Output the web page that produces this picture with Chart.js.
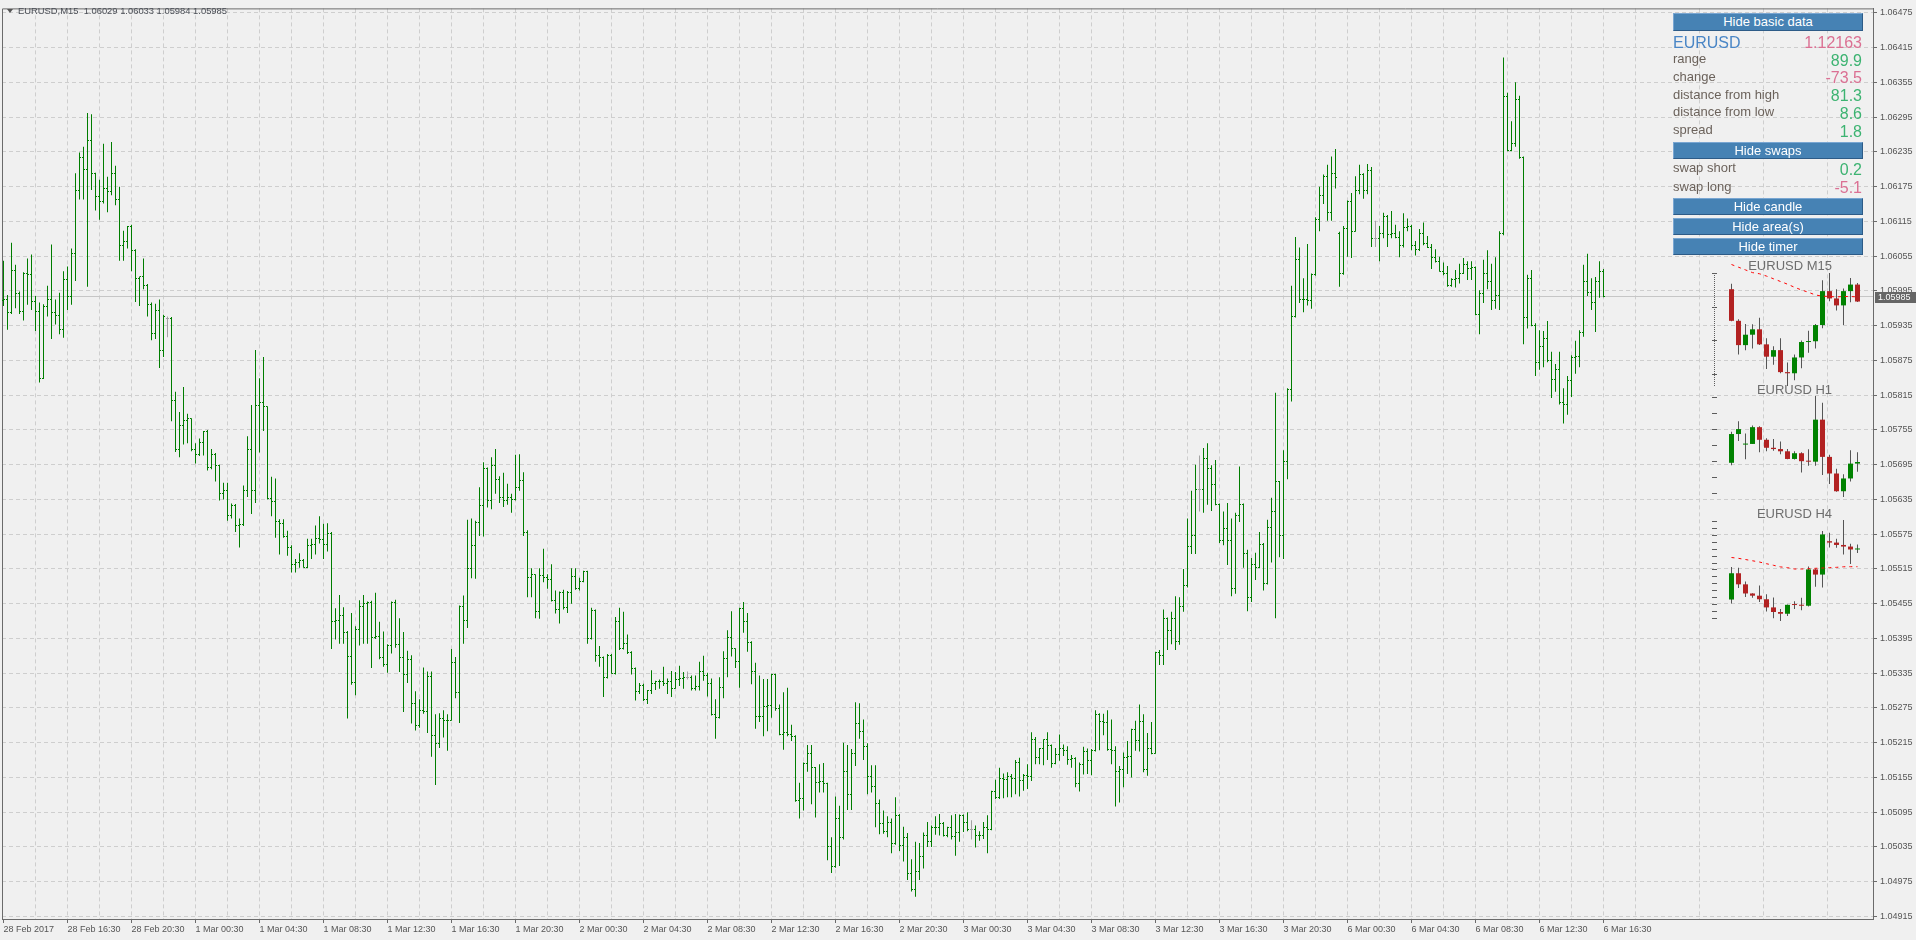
<!DOCTYPE html>
<html>
<head>
<meta charset="utf-8">
<title>EURUSD,M15</title>
<script src="https://cdn.jsdelivr.net/npm/chart.js@4.4.1/dist/chart.umd.min.js"></script>
<style>
html, body { margin: 0; padding: 0; background: #f0f0f0; overflow: hidden; }
#wrap { position: relative; width: 1916px; height: 940px; font-family: "Liberation Sans", Arial, sans-serif; }
canvas { position: absolute; }
.hdr { position: absolute; left: 18px; top: 5px; font-size: 9.4px; line-height: 11px; color: #4a4e56; white-space: pre; }
.tri { position: absolute; left: 7px; top: 9px; width: 0; height: 0; border-left: 3px solid transparent; border-right: 3px solid transparent; border-top: 4px solid #555; }
.btn { position: absolute; left: 1673px; width: 190px; height: 17px; box-sizing: border-box; background: #4682b4;
       border: 1px solid; border-color: #79a6d2 #2d5b87 #2d5b87 #79a6d2; color: #fff; font-size: 13px; line-height: 15px; text-align: center; }
.lbl { position: absolute; left: 1673px; font-size: 13px; line-height: 18px; height: 18px; color: #6b625b; white-space: nowrap; }
.val { position: absolute; right: 54px; font-size: 16px; line-height: 18px; height: 18px; text-align: right; white-space: nowrap; }
.sym { position: absolute; left: 1673px; font-size: 16px; line-height: 18px; color: #4a86c6; }
.green { color: #3cb371; }
.pink { color: #db7093; }
.ttl { position: absolute; right: 84px; font-size: 13px; line-height: 16px; color: #6e6e6e; white-space: nowrap; }
</style>
</head>
<body>
<div id="wrap">
  <canvas id="main" width="1916" height="940" style="left:0;top:0;width:1916px;height:940px"></canvas>
  <canvas id="m15" width="162" height="129" style="left:1704px;top:261px;width:162px;height:129px"></canvas>
  <canvas id="h1" width="162" height="117" style="left:1704px;top:384px;width:162px;height:117px"></canvas>
  <canvas id="h4" width="162" height="117" style="left:1704px;top:508px;width:162px;height:117px"></canvas>

  <div class="tri"></div>
  <div class="hdr">EURUSD,M15  1.06029 1.06033 1.05984 1.05985</div>

  <div class="btn" style="top:13px;height:18px;line-height:16px">Hide basic data</div>
  <div class="sym" style="top:34px">EURUSD</div>
  <div class="val pink" style="top:34px">1.12163</div>
  <div class="lbl" style="top:50px">range</div><div class="val green" style="top:52px">89.9</div>
  <div class="lbl" style="top:68px">change</div><div class="val pink" style="top:69px">-73.5</div>
  <div class="lbl" style="top:86px">distance from high</div><div class="val green" style="top:87px">81.3</div>
  <div class="lbl" style="top:103px">distance from low</div><div class="val green" style="top:105px">8.6</div>
  <div class="lbl" style="top:121px">spread</div><div class="val green" style="top:123px">1.8</div>
  <div class="btn" style="top:142px">Hide swaps</div>
  <div class="lbl" style="top:159px">swap short</div><div class="val green" style="top:161px">0.2</div>
  <div class="lbl" style="top:178px">swap long</div><div class="val pink" style="top:179px">-5.1</div>
  <div class="btn" style="top:198px">Hide candle</div>
  <div class="btn" style="top:218px">Hide area(s)</div>
  <div class="btn" style="top:238px">Hide timer</div>

  <div class="ttl" style="top:258px">EURUSD M15</div>
  <div class="ttl" style="top:382px">EURUSD H1</div>
  <div class="ttl" style="top:506px">EURUSD H4</div>
</div>

<script>
// M15 bars, 28 Feb 2017 12:30 .. 6 Mar 2017 16:30
const opens = [
1.05978,1.05981,1.05958,1.06031,1.05990,1.05959,1.06025,1.06023,1.05976,1.05959,
1.05844,1.05968,1.05980,1.05958,1.05953,1.05928,1.06015,1.05985,1.06060,1.06169,
1.06225,1.06205,1.06255,1.06197,1.06158,1.06149,1.06172,1.06166,1.06198,1.06153,
1.06073,1.06081,1.06107,1.06065,1.06016,1.06020,1.06004,1.05971,1.05922,1.05961,
1.05892,1.05948,1.05948,1.05806,1.05721,1.05763,1.05771,1.05774,1.05722,1.05713,
1.05734,1.05753,1.05690,1.05712,1.05693,1.05646,1.05651,1.05607,1.05625,1.05590,
1.05592,1.05650,1.05721,1.05651,1.05798,1.05802,1.05795,1.05637,1.05632,1.05597,
1.05593,1.05571,1.05552,1.05522,1.05527,1.05529,1.05518,1.05556,1.05558,1.05567,
1.05565,1.05558,1.05577,1.05425,1.05426,1.05435,1.05406,1.05363,1.05319,1.05410,
1.05451,1.05455,1.05457,1.05396,1.05399,1.05362,1.05350,1.05383,1.05457,1.05385,
1.05362,1.05332,1.05358,1.05282,1.05245,1.05270,1.05269,1.05329,1.05228,1.05214,
1.05257,1.05253,1.05254,1.05354,1.05302,1.05451,1.05426,1.05516,1.05556,1.05595,
1.05625,1.05688,1.05634,1.05694,1.05669,1.05639,1.05634,1.05639,1.05635,1.05656,
1.05668,1.05578,1.05500,1.05505,1.05441,1.05504,1.05500,1.05497,1.05461,1.05445,
1.05475,1.05448,1.05475,1.05502,1.05482,1.05494,1.05510,1.05395,1.05444,1.05366,
1.05362,1.05328,1.05366,1.05335,1.05424,1.05378,1.05386,1.05371,1.05344,1.05304,
1.05314,1.05289,1.05305,1.05317,1.05321,1.05320,1.05318,1.05320,1.05309,1.05325,
1.05326,1.05328,1.05328,1.05309,1.05312,1.05338,1.05331,1.05317,1.05264,1.05259,
1.05310,1.05361,1.05396,1.05377,1.05355,1.05446,1.05424,1.05388,1.05338,1.05260,
1.05261,1.05277,1.05279,1.05332,1.05274,1.05229,1.05232,1.05229,1.05226,1.05115,
1.05118,1.05179,1.05197,1.05172,1.05146,1.05148,1.05144,1.05035,1.05001,1.05085,
1.05052,1.05165,1.05126,1.05197,1.05248,1.05235,1.05209,1.05157,1.05139,1.05110,
1.05076,1.05061,1.05078,1.05041,1.05089,1.05038,1.05052,1.04989,1.04962,1.04992,
1.05018,1.05054,1.05045,1.05068,1.05069,1.05076,1.05055,1.05068,1.05053,1.05060,
1.05089,1.05077,1.05066,1.05066,1.05054,1.05055,1.05069,1.05065,1.05130,1.05121,
1.05153,1.05151,1.05157,1.05154,1.05181,1.05150,1.05159,1.05157,1.05221,1.05190,
1.05205,1.05221,1.05210,1.05180,1.05195,1.05205,1.05202,1.05186,1.05188,1.05145,
1.05178,1.05200,1.05185,1.05202,1.05264,1.05251,1.05250,1.05204,1.05201,1.05166,
1.05168,1.05190,1.05191,1.05238,1.05218,1.05252,1.05168,1.05205,1.05197,1.05371,
1.05365,1.05429,1.05409,1.05429,1.05390,1.05451,1.05486,1.05553,1.05573,1.05652,
1.05652,1.05706,1.05689,1.05661,1.05627,1.05564,1.05585,1.05564,1.05482,1.05607,
1.05627,1.05541,1.05465,1.05522,1.05518,1.05558,1.05490,1.05587,1.05615,1.05666,
1.05573,1.05701,1.05825,1.05951,1.06050,1.05981,1.05980,1.05979,1.06023,1.06119,
1.06160,1.06193,1.06130,1.06198,1.06094,1.06025,1.06102,1.06149,1.06098,1.06168,
1.06196,1.06168,1.06203,1.06086,1.06086,1.06094,1.06124,1.06092,1.06094,1.06087,
1.06074,1.06105,1.06107,1.06073,1.06066,1.06094,1.06076,1.06070,1.06052,1.06046,
1.06029,1.06025,1.06004,1.06014,1.06016,1.06025,1.06040,1.06033,1.06035,1.05955,
1.05990,1.06025,1.06012,1.05979,1.05987,1.06094,1.06330,1.06237,1.06250,1.06326,
1.06225,1.05949,1.06017,1.05935,1.05872,1.05899,1.05913,1.05874,1.05842,1.05859,
1.05802,1.05799,1.05840,1.05880,1.05882,1.05924,1.06012,1.05993,1.05975,1.06012,
1.06029];
const highs = [
1.06047,1.05988,1.06078,1.06040,1.05994,1.06027,1.06051,1.06058,1.05986,1.05975,
1.05972,1.06004,1.06075,1.05980,1.05992,1.06029,1.06037,1.06068,1.06198,1.06234,
1.06244,1.06302,1.06300,1.06199,1.06187,1.06249,1.06192,1.06252,1.06211,1.06175,
1.06099,1.06107,1.06109,1.06067,1.06020,1.06051,1.06007,1.05975,1.05973,1.05980,
1.05954,1.05951,1.05950,1.05821,1.05786,1.05829,1.05783,1.05775,1.05732,1.05740,
1.05753,1.05755,1.05722,1.05715,1.05695,1.05664,1.05664,1.05628,1.05627,1.05602,
1.05659,1.05744,1.05798,1.05893,1.05844,1.05881,1.05796,1.05674,1.05671,1.05601,
1.05601,1.05581,1.05556,1.05532,1.05542,1.05532,1.05567,1.05567,1.05590,1.05606,
1.05593,1.05594,1.05579,1.05447,1.05470,1.05449,1.05408,1.05439,1.05416,1.05461,
1.05470,1.05459,1.05460,1.05474,1.05424,1.05407,1.05385,1.05459,1.05462,1.05430,
1.05406,1.05374,1.05366,1.05304,1.05290,1.05345,1.05338,1.05338,1.05264,1.05266,
1.05271,1.05264,1.05377,1.05363,1.05452,1.05469,1.05600,1.05602,1.05598,1.05656,
1.05699,1.05690,1.05708,1.05722,1.05675,1.05681,1.05662,1.05645,1.05712,1.05713,
1.05682,1.05582,1.05516,1.05506,1.05516,1.05550,1.05506,1.05523,1.05478,1.05476,
1.05479,1.05477,1.05516,1.05516,1.05500,1.05512,1.05512,1.05448,1.05445,1.05382,
1.05364,1.05368,1.05368,1.05432,1.05448,1.05441,1.05402,1.05373,1.05345,1.05318,
1.05317,1.05306,1.05340,1.05322,1.05324,1.05346,1.05326,1.05339,1.05337,1.05348,
1.05337,1.05338,1.05331,1.05331,1.05355,1.05365,1.05336,1.05326,1.05290,1.05328,
1.05373,1.05409,1.05442,1.05378,1.05448,1.05458,1.05439,1.05390,1.05353,1.05331,
1.05325,1.05325,1.05334,1.05334,1.05281,1.05302,1.05310,1.05246,1.05228,1.05146,
1.05181,1.05211,1.05211,1.05173,1.05178,1.05180,1.05146,1.05052,1.05122,1.05106,
1.05215,1.05211,1.05204,1.05285,1.05283,1.05255,1.05214,1.05176,1.05176,1.05117,
1.05098,1.05088,1.05084,1.05121,1.05092,1.05070,1.05059,1.05014,1.05044,1.05042,
1.05060,1.05078,1.05072,1.05088,1.05092,1.05078,1.05070,1.05090,1.05092,1.05091,
1.05091,1.05095,1.05081,1.05072,1.05062,1.05078,1.05090,1.05132,1.05151,1.05172,
1.05162,1.05164,1.05161,1.05185,1.05189,1.05161,1.05178,1.05233,1.05225,1.05206,
1.05221,1.05233,1.05212,1.05206,1.05229,1.05212,1.05209,1.05194,1.05190,1.05181,
1.05208,1.05205,1.05204,1.05271,1.05266,1.05265,1.05271,1.05255,1.05209,1.05175,
1.05198,1.05218,1.05239,1.05253,1.05281,1.05264,1.05232,1.05251,1.05372,1.05375,
1.05445,1.05431,1.05441,1.05468,1.05466,1.05515,1.05602,1.05650,1.05695,1.05711,
1.05724,1.05732,1.05694,1.05703,1.05628,1.05614,1.05629,1.05602,1.05612,1.05692,
1.05628,1.05548,1.05534,1.05543,1.05579,1.05560,1.05600,1.05638,1.05819,1.05667,
1.05720,1.05827,1.06004,1.06088,1.06070,1.06017,1.06076,1.06025,1.06122,1.06175,
1.06196,1.06213,1.06227,1.06240,1.06097,1.06107,1.06151,1.06164,1.06193,1.06213,
1.06198,1.06214,1.06209,1.06116,1.06107,1.06130,1.06126,1.06133,1.06109,1.06098,
1.06129,1.06120,1.06109,1.06081,1.06102,1.06113,1.06090,1.06076,1.06067,1.06054,
1.06044,1.06038,1.06017,1.06031,1.06042,1.06052,1.06046,1.06046,1.06037,1.05996,
1.06049,1.06065,1.06042,1.06053,1.06098,1.06398,1.06337,1.06288,1.06355,1.06332,
1.06227,1.06023,1.06031,1.05939,1.05927,1.05926,1.05943,1.05890,1.05869,1.05890,
1.05827,1.05848,1.05884,1.05909,1.05927,1.06040,1.06059,1.06017,1.06019,1.06046,
1.06033];
const lows = [
1.05969,1.05928,1.05955,1.05965,1.05955,1.05944,1.05971,1.05962,1.05926,1.05837,
1.05843,1.05951,1.05912,1.05937,1.05920,1.05914,1.05962,1.05971,1.06012,1.06153,
1.06153,1.06002,1.06169,1.06134,1.06118,1.06146,1.06131,1.06160,1.06143,1.06047,
1.06047,1.06068,1.06029,1.05976,1.05969,1.05998,1.05951,1.05910,1.05912,1.05862,
1.05881,1.05915,1.05770,1.05717,1.05708,1.05730,1.05732,1.05718,1.05697,1.05710,
1.05711,1.05685,1.05687,1.05666,1.05633,1.05635,1.05598,1.05602,1.05579,1.05552,
1.05589,1.05639,1.05610,1.05629,1.05716,1.05753,1.05635,1.05606,1.05569,1.05540,
1.05569,1.05538,1.05509,1.05509,1.05517,1.05517,1.05516,1.05532,1.05540,1.05559,
1.05532,1.05545,1.05377,1.05393,1.05386,1.05386,1.05257,1.05315,1.05297,1.05383,
1.05386,1.05386,1.05344,1.05394,1.05359,1.05346,1.05336,1.05369,1.05379,1.05337,
1.05268,1.05318,1.05248,1.05236,1.05241,1.05265,1.05232,1.05191,1.05142,1.05206,
1.05224,1.05201,1.05253,1.05292,1.05249,1.05386,1.05413,1.05499,1.05498,1.05572,
1.05571,1.05621,1.05618,1.05645,1.05629,1.05622,1.05626,1.05612,1.05633,1.05650,
1.05572,1.05466,1.05466,1.05430,1.05429,1.05492,1.05481,1.05459,1.05438,1.05421,
1.05445,1.05439,1.05455,1.05479,1.05478,1.05492,1.05386,1.05393,1.05355,1.05346,
1.05294,1.05326,1.05334,1.05333,1.05375,1.05376,1.05368,1.05333,1.05288,1.05299,
1.05287,1.05282,1.05299,1.05306,1.05308,1.05313,1.05299,1.05294,1.05308,1.05313,
1.05308,1.05324,1.05305,1.05305,1.05305,1.05322,1.05295,1.05262,1.05222,1.05257,
1.05292,1.05328,1.05364,1.05344,1.05310,1.05405,1.05372,1.05316,1.05239,1.05251,
1.05226,1.05235,1.05258,1.05270,1.05228,1.05203,1.05226,1.05218,1.05113,1.05084,
1.05098,1.05165,1.05109,1.05086,1.05129,1.05129,1.05012,1.04990,1.04999,1.05002,
1.05048,1.05099,1.05099,1.05175,1.05222,1.05185,1.05126,1.05129,1.05069,1.05057,
1.05058,1.05052,1.05024,1.05039,1.05028,1.05010,1.04978,1.04958,1.04949,1.04978,
1.04998,1.05035,1.05035,1.05056,1.05055,1.05053,1.05052,1.05048,1.05020,1.05044,
1.05061,1.05062,1.05048,1.05034,1.05046,1.05049,1.05024,1.05064,1.05118,1.05118,
1.05119,1.05121,1.05121,1.05126,1.05122,1.05132,1.05135,1.05149,1.05178,1.05178,
1.05176,1.05185,1.05172,1.05178,1.05184,1.05192,1.05177,1.05172,1.05138,1.05131,
1.05160,1.05161,1.05159,1.05200,1.05202,1.05228,1.05201,1.05178,1.05105,1.05112,
1.05138,1.05161,1.05155,1.05201,1.05200,1.05164,1.05158,1.05195,1.05196,1.05349,
1.05349,1.05375,1.05385,1.05375,1.05384,1.05441,1.05483,1.05541,1.05541,1.05614,
1.05612,1.05626,1.05615,1.05625,1.05560,1.05556,1.05522,1.05468,1.05472,1.05596,
1.05517,1.05442,1.05458,1.05496,1.05516,1.05478,1.05488,1.05526,1.05430,1.05535,
1.05532,1.05670,1.05804,1.05949,1.05974,1.05958,1.05970,1.05964,1.06021,1.06098,
1.06145,1.06116,1.06116,1.06172,1.06002,1.06023,1.06054,1.06052,1.06097,1.06162,
1.06154,1.06162,1.06071,1.06071,1.06046,1.06086,1.06071,1.06086,1.06086,1.06053,
1.06070,1.06098,1.06065,1.06056,1.06064,1.06074,1.06069,1.06033,1.06044,1.06028,
1.06022,1.06002,1.06002,1.06001,1.06008,1.06024,1.06014,1.06014,1.05953,1.05920,
1.05974,1.05998,1.05962,1.05964,1.05962,1.06091,1.06236,1.06236,1.06244,1.06223,
1.05903,1.05930,1.05934,1.05848,1.05859,1.05863,1.05872,1.05810,1.05821,1.05799,
1.05766,1.05781,1.05812,1.05852,1.05863,1.05916,1.05986,1.05962,1.05924,1.05983,
1.05984];
const closes = [
1.05981,1.05958,1.06031,1.05990,1.05959,1.06025,1.06023,1.05976,1.05959,1.05844,
1.05968,1.05980,1.05958,1.05953,1.05928,1.06015,1.05985,1.06060,1.06169,1.06225,
1.06205,1.06255,1.06197,1.06158,1.06149,1.06172,1.06166,1.06198,1.06153,1.06073,
1.06081,1.06107,1.06065,1.06016,1.06020,1.06004,1.05971,1.05922,1.05961,1.05892,
1.05950,1.05948,1.05806,1.05721,1.05763,1.05771,1.05774,1.05722,1.05713,1.05734,
1.05753,1.05690,1.05712,1.05693,1.05646,1.05651,1.05607,1.05625,1.05590,1.05592,
1.05650,1.05721,1.05651,1.05798,1.05802,1.05795,1.05637,1.05632,1.05597,1.05593,
1.05571,1.05552,1.05522,1.05527,1.05529,1.05518,1.05556,1.05558,1.05567,1.05565,
1.05558,1.05577,1.05425,1.05426,1.05435,1.05406,1.05363,1.05319,1.05410,1.05451,
1.05455,1.05457,1.05396,1.05399,1.05362,1.05350,1.05383,1.05457,1.05385,1.05362,
1.05332,1.05358,1.05282,1.05245,1.05270,1.05269,1.05329,1.05228,1.05214,1.05257,
1.05253,1.05254,1.05354,1.05302,1.05451,1.05426,1.05516,1.05556,1.05595,1.05625,
1.05688,1.05634,1.05694,1.05669,1.05639,1.05634,1.05639,1.05635,1.05656,1.05668,
1.05578,1.05500,1.05505,1.05441,1.05504,1.05500,1.05497,1.05461,1.05445,1.05475,
1.05448,1.05475,1.05502,1.05482,1.05494,1.05510,1.05395,1.05444,1.05366,1.05362,
1.05328,1.05366,1.05335,1.05424,1.05378,1.05386,1.05371,1.05344,1.05304,1.05314,
1.05289,1.05305,1.05317,1.05321,1.05320,1.05318,1.05320,1.05309,1.05325,1.05326,
1.05328,1.05328,1.05309,1.05312,1.05338,1.05331,1.05317,1.05264,1.05259,1.05310,
1.05361,1.05396,1.05377,1.05355,1.05446,1.05424,1.05388,1.05338,1.05260,1.05261,
1.05277,1.05279,1.05332,1.05274,1.05229,1.05232,1.05229,1.05226,1.05115,1.05118,
1.05179,1.05197,1.05172,1.05146,1.05148,1.05144,1.05035,1.05001,1.05085,1.05052,
1.05165,1.05126,1.05197,1.05248,1.05235,1.05209,1.05157,1.05139,1.05110,1.05076,
1.05061,1.05078,1.05041,1.05089,1.05038,1.05052,1.04989,1.04962,1.04992,1.05018,
1.05054,1.05045,1.05068,1.05069,1.05076,1.05055,1.05068,1.05053,1.05060,1.05089,
1.05077,1.05066,1.05066,1.05054,1.05055,1.05069,1.05065,1.05130,1.05121,1.05153,
1.05151,1.05157,1.05154,1.05181,1.05150,1.05159,1.05157,1.05221,1.05190,1.05205,
1.05221,1.05210,1.05180,1.05195,1.05205,1.05202,1.05186,1.05188,1.05145,1.05178,
1.05200,1.05185,1.05202,1.05264,1.05251,1.05250,1.05204,1.05201,1.05166,1.05168,
1.05190,1.05191,1.05238,1.05218,1.05252,1.05168,1.05205,1.05197,1.05371,1.05365,
1.05429,1.05409,1.05429,1.05390,1.05451,1.05486,1.05553,1.05573,1.05652,1.05652,
1.05706,1.05689,1.05661,1.05627,1.05564,1.05585,1.05564,1.05482,1.05607,1.05627,
1.05541,1.05465,1.05522,1.05518,1.05558,1.05490,1.05587,1.05615,1.05666,1.05573,
1.05701,1.05825,1.05951,1.06050,1.05981,1.05980,1.05979,1.06023,1.06119,1.06160,
1.06193,1.06130,1.06198,1.06191,1.06025,1.06102,1.06149,1.06098,1.06168,1.06196,
1.06168,1.06203,1.06086,1.06086,1.06094,1.06124,1.06092,1.06094,1.06087,1.06074,
1.06105,1.06107,1.06073,1.06066,1.06094,1.06076,1.06070,1.06052,1.06046,1.06029,
1.06025,1.06004,1.06014,1.06016,1.06025,1.06040,1.06033,1.06035,1.05955,1.05990,
1.06025,1.06012,1.05979,1.05987,1.06094,1.06330,1.06237,1.06250,1.06326,1.06225,
1.05949,1.06017,1.05935,1.05872,1.05899,1.05913,1.05874,1.05842,1.05859,1.05802,
1.05799,1.05840,1.05880,1.05882,1.05924,1.06012,1.05993,1.05975,1.06012,1.06029,
1.05985];

// one label every 16 bars (4 hours)
const timeLabels = ['28 Feb 2017','28 Feb 16:30','28 Feb 20:30','1 Mar 00:30','1 Mar 04:30','1 Mar 08:30',
  '1 Mar 12:30','1 Mar 16:30','1 Mar 20:30','2 Mar 00:30','2 Mar 04:30','2 Mar 08:30','2 Mar 12:30',
  '2 Mar 16:30','2 Mar 20:30','3 Mar 00:30','3 Mar 04:30','3 Mar 08:30','3 Mar 12:30','3 Mar 16:30',
  '3 Mar 20:30','6 Mar 00:30','6 Mar 04:30','6 Mar 08:30','6 Mar 12:30','6 Mar 16:30'];
const priceTicks = ['1.04915','1.04975','1.05035','1.05095','1.05155','1.05215','1.05275','1.05335','1.05395',
  '1.05455','1.05515','1.05575','1.05635','1.05695','1.05755','1.05815','1.05875','1.05935','1.05995',
  '1.06055','1.06115','1.06175','1.06235','1.06295','1.06355','1.06415','1.06475'];
const yMin = 1.049107, yMax = 1.064827;

// dashed red lines and scale marks of the small candle panels
const ma15 = [1.06081,1.06074,1.06067,1.06060,1.06057,1.06051,1.06044,1.06037,1.06030,1.06022,
  1.06015,1.06009,1.06002,1.05999,1.05998,1.05997,1.05998,1.05998,1.05997];
const ma4h = [1.05860,1.05848,1.05831,1.05813,1.05795,1.05771,1.05748,1.05725,1.05714,1.05695,
  1.05695,1.05699,1.05705,1.05709,1.05714,1.05719,1.05727,1.05728,1.05728];
const m15Marks = [1.06058,1.05971,1.05884,1.05797];
const h1Marks = [1.06390,1.06290,1.06192,1.06090,1.05992,1.05890,1.05790];
const h4Marks = [1.06388,1.06288,1.06188,1.06088,1.05988,1.05888,1.05788,1.05688,1.05588,1.05488,
  1.05388,1.05288,1.05188,1.05088,1.04988];

const green = '#007d00';
const dojiGrey = '#a3a3a3';
const gridGrey = '#cecece';
const axisGrey = '#6b6b6b';
const labelGrey = '#555555';
const candleGreen = '#008200';
const candleRed = '#b22222';
const font9 = { family: 'Liberation Sans', size: 9 };

Chart.defaults.font.family = 'Liberation Sans';

const lastPrice = closes[closes.length - 1];
const barColors = opens.map((o, i) => o === closes[i] ? dojiGrey : green);

const chartDecor = {
  id: 'chartDecor',
  beforeDatasetsDraw(chart) {
    const { ctx, chartArea: a, scales: { y } } = chart;
    ctx.save();
    ctx.lineWidth = 1;
    ctx.strokeStyle = axisGrey;
    ctx.beginPath();
    ctx.moveTo(a.left + 0.5, a.bottom);
    ctx.lineTo(a.left + 0.5, a.top + 0.5);
    ctx.lineTo(a.right, a.top + 0.5);
    ctx.stroke();
    const py = Math.round(y.getPixelForValue(lastPrice) - 0.5) + 0.5;
    ctx.strokeStyle = '#c6c6c6';
    ctx.beginPath();
    ctx.moveTo(a.left + 1, py);
    ctx.lineTo(a.right, py);
    ctx.stroke();
    ctx.restore();
  },
  afterDatasetsDraw(chart) {
    // open tick on the left, close tick on the right
    const { ctx, scales: { x, y } } = chart;
    ctx.save();
    for (let i = 0; i < opens.length; i++) {
      const px = Math.round(x.getPixelForValue(i) - 0.5);
      ctx.fillStyle = barColors[i];
      ctx.fillRect(px - 1, Math.round(y.getPixelForValue(opens[i]) - 0.5), 1, 1);
      ctx.fillRect(px + 1, Math.round(y.getPixelForValue(closes[i]) - 0.5), 1, 1);
    }
    ctx.restore();
  },
  afterDraw(chart) {
    const { ctx, chartArea: a, scales: { y } } = chart;
    const py = Math.round(y.getPixelForValue(lastPrice));
    ctx.save();
    ctx.fillStyle = '#666666';
    ctx.fillRect(a.right + 2, py - 5, 41, 11);
    ctx.fillStyle = '#ffffff';
    ctx.font = '9px "Liberation Sans"';
    ctx.textBaseline = 'middle';
    ctx.fillText(lastPrice.toFixed(5), a.right + 5, py + 0.5);
    ctx.restore();
  }
};

new Chart(document.getElementById('main'), {
  type: 'bar',
  data: {
    datasets: [{
      data: highs.map((h, i) => ({ x: i, y: [lows[i], h] })),
      backgroundColor: barColors,
      borderWidth: 0,
      barThickness: 1,
      inflateAmount: 0
    }]
  },
  options: {
    responsive: false,
    animation: false,
    events: [],
    layout: { padding: { left: 2, top: 2, right: 0, bottom: 0 } },
    plugins: { legend: { display: false }, tooltip: { enabled: false } },
    scales: {
      x: {
        type: 'linear', min: -0.375, max: 467.375, offset: false, bounds: 'data',
        afterBuildTicks: s => {
          const t = [];
          for (let v = 0; v <= 464; v += 8) t.push({ value: v });
          s.ticks = t;
        },
        afterFit: s => { s.height = 21; },
        grid: {
          offset: false,
          color: c => (c.tick && c.tick.value === 0) ? 'rgba(0,0,0,0)' : gridGrey,
          tickLength: 4,
          tickColor: c => (c.tick && c.tick.value % 16 === 0) ? axisGrey : 'rgba(0,0,0,0)',
          tickBorderDash: []
        },
        border: { color: axisGrey, dash: [4, 3] },
        ticks: {
          autoSkip: false, maxRotation: 0, align: 'start', padding: 1,
          color: labelGrey, font: font9,
          callback: v => v % 16 === 0 ? timeLabels[v / 16] : ''
        }
      },
      y: {
        position: 'right', min: yMin, max: yMax, bounds: 'data',
        afterBuildTicks: s => { s.ticks = priceTicks.map(t => ({ value: Number(t) })); },
        afterFit: s => { s.width = 43; },
        grid: { color: gridGrey, tickLength: 4, tickColor: axisGrey, tickBorderDash: [] },
        border: { color: axisGrey, dash: [4, 3] },
        ticks: { padding: 3, color: labelGrey, font: font9, callback: (v, i) => priceTicks[i] }
      }
    }
  },
  plugins: [chartDecor]
});

// small candle panels: M15, H1 and H4 built from the M15 bars
function aggregate(start, size, count) {
  const out = [];
  for (let k = 0; k < count; k++) {
    const a = start + k * size;
    const b = Math.min(a + size, opens.length);
    out.push({
      o: opens[a], c: closes[b - 1],
      h: Math.max(...highs.slice(a, b)), l: Math.min(...lows.slice(a, b))
    });
  }
  return out;
}

const panelMarks = {
  id: 'panelMarks',
  beforeDatasetsDraw(chart, args, opts) {
    const { ctx, chartArea: a, scales: { y } } = chart;
    ctx.save();
    ctx.fillStyle = '#5c5c5c';
    if (opts.dotted) {
      for (let yy = a.top; yy < a.bottom; yy += 2) ctx.fillRect(a.left, yy, 1, 1);
    }
    opts.marks.forEach(v => ctx.fillRect(a.left - 2, Math.round(y.getPixelForValue(v)), 5, 1));
    ctx.restore();
  }
};

function miniChart(id, candles, ma, marks, dotted, padTop) {
  const lo = Math.min(...candles.map(c => c.l));
  const hi = Math.max(...candles.map(c => c.h));
  const datasets = [];
  if (ma) {
    datasets.push({
      type: 'line', data: ma.map((v, j) => ({ x: j, y: v })),
      borderColor: '#ff0000', borderWidth: 1, borderDash: [3, 4],
      pointRadius: 0, tension: 0, clip: false
    });
  }
  datasets.push({
    data: candles.map((c, j) => ({ x: j, y: [c.o, c.c] })),
    backgroundColor: candles.map(c => c.c >= c.o ? candleGreen : candleRed),
    borderWidth: 0, barThickness: 5, grouped: false, minBarLength: 1, inflateAmount: 0
  });
  datasets.push({
    data: candles.map((c, j) => ({ x: j, y: [c.l, c.h] })),
    backgroundColor: '#555555',
    borderWidth: 0, barThickness: 1, grouped: false, inflateAmount: 0
  });
  new Chart(document.getElementById(id), {
    type: 'bar',
    data: { datasets },
    options: {
      responsive: false,
      animation: false,
      events: [],
      layout: { padding: { left: 10, right: 4, top: padTop, bottom: 4 } },
      plugins: { legend: { display: false }, tooltip: { enabled: false }, panelMarks: { marks, dotted } },
      scales: {
        x: { type: 'linear', display: false, min: -2.5, max: 18.643, offset: false, grid: { offset: false } },
        y: { display: false, min: lo, max: hi }
      }
    },
    plugins: [panelMarks]
  });
}

miniChart('m15', aggregate(382, 1, 19), ma15, m15Marks, true, 12);
miniChart('h1', aggregate(326, 4, 19), null, h1Marks, false, 12);
miniChart('h4', aggregate(110, 16, 19), ma4h, h4Marks, false, 12);
</script>
</body>
</html>
